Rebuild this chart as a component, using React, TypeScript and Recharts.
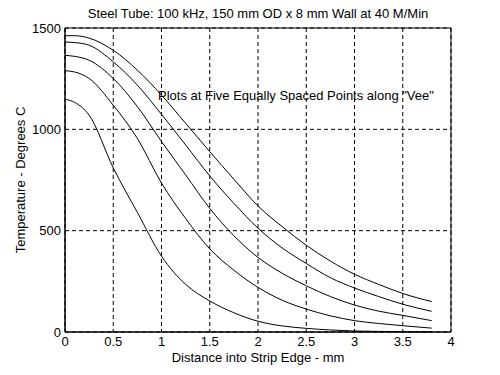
import { CartesianGrid, Line, LineChart, ReferenceArea, XAxis, YAxis } from "recharts";

// distance into strip edge (mm)
const distance = [0, 0.1, 0.25, 0.5, 0.75, 1, 1.25, 1.5, 1.75, 2, 2.25, 2.5, 2.75, 3, 3.25, 3.5, 3.8];

// temperature (deg C) at five points along the vee
const point1 = [1462, 1462, 1450, 1390, 1292, 1169, 1030, 890, 754, 622, 520, 428, 350, 285, 235, 190, 150];
const point2 = [1431, 1428, 1415, 1333, 1218, 1074, 923, 770, 635, 512, 415, 338, 268, 217, 175, 137, 102];
const point3 = [1365, 1360, 1341, 1251, 1112, 940, 775, 610, 475, 368, 290, 228, 175, 133, 103, 82, 56];
const point4 = [1289, 1283, 1251, 1119, 955, 735, 560, 410, 305, 220, 157, 113, 80, 56, 42, 31, 19];
const point5 = [1149, 1133, 1070, 810, 590, 374, 235, 153, 95, 53, 30, 18, 10, 5, 3, 2, 1];

const xTicks = [0, 0.5, 1, 1.5, 2, 2.5, 3, 3.5, 4];
const yTicks = [0, 500, 1000, 1500];

const series = [point1, point2, point3, point4, point5];

const data = distance.map((x, i) => {
  const row: Record<string, number> = { x };
  series.forEach((s, j) => {
    row["p" + (j + 1)] = s[i];
  });
  return row;
});

const font = "'Liberation Sans', Arial, sans-serif";
const tickStyle = { fill: "#000", fontSize: 13, fontFamily: font };

const App = () => {
  return (
    <div style={{ position: "absolute", left: 0, top: 0, width: 500, height: 375, background: "#fff" }}>
      <LineChart
        width={500}
        height={375}
        data={data}
        margin={{ top: 28, right: 49, bottom: 0, left: 0 }}
      >
        <CartesianGrid stroke="#000" strokeDasharray="4 3" />
        <XAxis
          dataKey="x"
          type="number"
          domain={[0, 4]}
          ticks={xTicks}
          height={43}
          tickLine={false}
          tickSize={5}
          tickMargin={0}
          axisLine={{ stroke: "#000" }}
          tick={tickStyle}
        />
        <YAxis
          type="number"
          domain={[0, 1500]}
          ticks={yTicks}
          width={65}
          tickLine={false}
          tickSize={4}
          tickMargin={0}
          axisLine={{ stroke: "#000" }}
          tick={tickStyle}
        />
        <ReferenceArea x1={0} x2={4} y1={0} y2={1500} fill="none" stroke="#000" strokeOpacity={1} />
        {series.map((_, j) => (
          <Line
            key={j}
            type="monotone"
            dataKey={"p" + (j + 1)}
            stroke="#000"
            strokeWidth={1}
            dot={false}
            isAnimationActive={false}
          />
        ))}
      </LineChart>
      <svg
        width={500}
        height={375}
        style={{ position: "absolute", left: 0, top: 0, pointerEvents: "none" }}
        fontFamily={font}
        fontSize={13}
        fill="#000"
      >
        <text x={258} y={18} textAnchor="middle">
          Steel Tube: 100 kHz, 150 mm OD x 8 mm Wall at 40 M/Min
        </text>
        <text x={158} y={100}>
          Plots at Five Equally Spaced Points along "Vee"
        </text>
        <text x={258} y={362} textAnchor="middle">
          Distance into Strip Edge - mm
        </text>
        <text x={25} y={180} textAnchor="middle" transform="rotate(-90 25 180)">
          Temperature - Degrees C
        </text>
      </svg>
    </div>
  );
};

export default App;
